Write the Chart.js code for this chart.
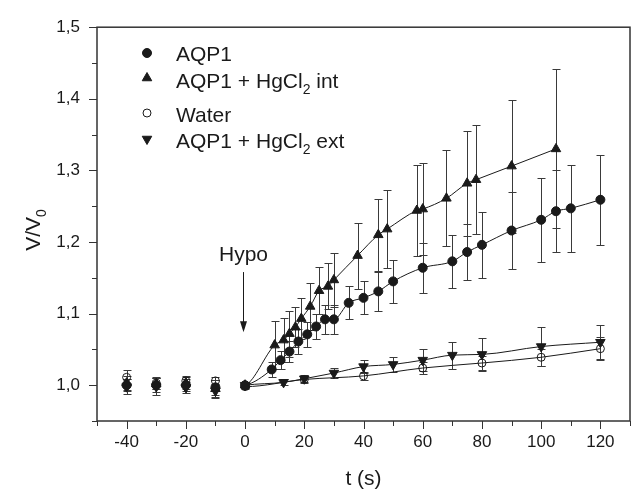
<!DOCTYPE html>
<html>
<head>
<meta charset="utf-8">
<script src="https://cdn.jsdelivr.net/npm/chart.js@4.4.0/dist/chart.umd.min.js"></script>
<style>
  html, body { margin: 0; padding: 0; background: #fff; }
  #chart { display: block; }
</style>
</head>
<body>
<canvas id="chart" width="641" height="493"></canvas>
<script>
// AQP1 (filled circles)
const tAqp1 = [-40, -30, -20, -10, 0, 9, 12, 15, 18, 21, 24, 27, 30, 35, 40, 45, 50, 60, 70, 75, 80, 90, 100, 105, 110, 120];
const vAqp1 = [1.000, 1.000, 1.000, 0.997, 1.000, 1.022, 1.035, 1.047, 1.061, 1.071, 1.082, 1.092, 1.092, 1.115, 1.122, 1.131, 1.145, 1.164, 1.173, 1.186, 1.196, 1.216, 1.231, 1.243, 1.247, 1.259];
const eAqp1 = [0.008, 0.010, 0.008, 0.010, 0.003, 0.010, 0.013, 0.015, 0.017, 0.017, 0.017, 0.020, 0.020, 0.023, 0.023, 0.027, 0.030, 0.035, 0.037, 0.039, 0.046, 0.054, 0.059, 0.057, 0.061, 0.063];

// AQP1 + HgCl2 int (triangles)
const tInt = [-40, -30, -20, -10, 0, 10, 13, 15, 17, 19, 22, 25, 28, 30, 38, 45, 48, 58, 60, 68, 75, 78, 90, 105];
const vInt = [1.003, 1.002, 1.003, 0.995, 1.000, 1.056, 1.063, 1.072, 1.081, 1.093, 1.110, 1.132, 1.138, 1.147, 1.181, 1.210, 1.218, 1.244, 1.246, 1.261, 1.282, 1.287, 1.306, 1.330];
const eInt = [0.010, 0.008, 0.008, 0.012, 0.004, 0.033, 0.031, 0.032, 0.028, 0.029, 0.033, 0.033, 0.032, 0.038, 0.046, 0.050, 0.055, 0.063, 0.064, 0.067, 0.073, 0.076, 0.093, 0.111];

// Water (open circles)
const tWater = [-40, -30, -20, -10, 0, 20, 40, 60, 80, 100, 120];
const vWater = [1.011, 1.003, 1.006, 1.006, 0.998, 1.008, 1.013, 1.024, 1.031, 1.039, 1.051];
const eWater = [0.010, 0.008, 0.007, 0.006, 0.003, 0.005, 0.006, 0.008, 0.010, 0.012, 0.016];

// AQP1 + HgCl2 ext (down triangles)
const tExt = [-40, -30, -20, -10, 0, 13, 20, 30, 40, 50, 60, 70, 80, 100, 120];
const vExt = [0.998, 0.998, 0.997, 0.992, 1.000, 1.004, 1.009, 1.017, 1.026, 1.029, 1.035, 1.042, 1.043, 1.054, 1.060];
const eExt = [0.010, 0.012, 0.008, 0.010, 0.004, 0.004, 0.005, 0.007, 0.009, 0.010, 0.015, 0.019, 0.023, 0.027, 0.024];

const FONT = '"Liberation Sans", Arial, sans-serif';
const INK = '#1a1a1a';
const AXIS = '#333';

const series = [
    {label: 'AQP1', t: tAqp1, v: vAqp1, e: eAqp1, style: 'circle', fill: INK, r: 4.5, rot: 0},
    {label: 'AQP1 + HgCl_2 int', t: tInt, v: vInt, e: eInt, style: 'triangle', fill: INK, r: 5.5, rot: 0},
    {label: 'Water', t: tWater, v: vWater, e: eWater, style: 'circle', fill: 'rgba(0,0,0,0)', r: 4, rot: 0},
    {label: 'AQP1 + HgCl_2 ext', t: tExt, v: vExt, e: eExt, style: 'triangle', fill: INK, r: 5.5, rot: 180},
];

function points(ts, vs) {
    return ts.map((t, i) => ({x: t, y: vs[i]}));
}

// text with "_x" single-character subscripts
function drawRich(ctx, text, x, baseline, size) {
    const parts = text.split(/_(.)/);
    let cx = x;
    parts.forEach((p, i) => {
        const sub = i % 2 === 1;
        ctx.font = (sub ? Math.round(size * 0.65) : size) + 'px ' + FONT;
        ctx.fillText(p, cx, baseline + (sub ? size * 0.3 : 0));
        cx += ctx.measureText(p).width;
    });
    return cx - x;
}

function richWidth(ctx, text, size) {
    const parts = text.split(/_(.)/);
    let w = 0;
    parts.forEach((p, i) => {
        ctx.font = (i % 2 ? Math.round(size * 0.65) : size) + 'px ' + FONT;
        w += ctx.measureText(p).width;
    });
    return w;
}

const framePlugin = {
    id: 'frame',
    beforeDatasetsDraw(chart) {
        const {ctx, scales: {x, y}} = chart;
        ctx.save();
        ctx.strokeStyle = '#3a3a3a';
        ctx.lineWidth = 1;
        chart.data.datasets.forEach(ds => {
            ds.data.forEach((p, i) => {
                const e = ds.errors[i];
                const px = Math.round(x.getPixelForValue(p.x)) + 0.5;
                const y1 = Math.round(y.getPixelForValue(p.y + e)) + 0.5;
                const y2 = Math.round(y.getPixelForValue(p.y - e)) + 0.5;
                ctx.beginPath();
                ctx.moveTo(px, y1); ctx.lineTo(px, y2);
                ctx.moveTo(px - 4, y1); ctx.lineTo(px + 4, y1);
                ctx.moveTo(px - 4, y2); ctx.lineTo(px + 4, y2);
                ctx.stroke();
            });
        });
        ctx.restore();
    },
    afterDraw(chart) {
        const {ctx, chartArea: a, scales: {x, y}} = chart;
        ctx.save();

        // box
        ctx.strokeStyle = AXIS;
        ctx.lineWidth = 1.5;
        ctx.strokeRect(a.left, a.top, a.right - a.left, a.bottom - a.top);

        // outward ticks, long on labelled ones
        ctx.lineWidth = 1;
        ctx.beginPath();
        x.ticks.forEach(t => {
            const px = Math.round(x.getPixelForValue(t.value)) + 0.5;
            ctx.moveTo(px, a.bottom);
            ctx.lineTo(px, a.bottom + (t.label ? 8 : 5));
        });
        y.ticks.forEach(t => {
            const py = Math.round(y.getPixelForValue(t.value)) + 0.5;
            ctx.moveTo(a.left, py);
            ctx.lineTo(a.left - (t.label ? 8 : 5), py);
        });
        ctx.stroke();

        // y title with subscript
        ctx.fillStyle = INK;
        ctx.textBaseline = 'alphabetic';
        ctx.save();
        ctx.translate(40, 230);
        ctx.rotate(-Math.PI / 2);
        const w = richWidth(ctx, 'V/V_0', 21);
        drawRich(ctx, 'V/V_0', -w / 2, 0, 21);
        ctx.restore();

        // Hypo arrow
        const ax = Math.round(x.getPixelForValue(-0.7)) + 0.5;
        const yTop = y.getPixelForValue(1.158);
        const yTip = y.getPixelForValue(1.074);
        ctx.strokeStyle = INK;
        ctx.beginPath();
        ctx.moveTo(ax, yTop);
        ctx.lineTo(ax, yTip - 8);
        ctx.stroke();
        ctx.beginPath();
        ctx.moveTo(ax - 3.5, yTip - 11);
        ctx.lineTo(ax + 3.5, yTip - 11);
        ctx.lineTo(ax, yTip);
        ctx.closePath();
        ctx.fill();
        ctx.font = '21px ' + FONT;
        ctx.textAlign = 'center';
        ctx.fillText('Hypo', ax, y.getPixelForValue(1.173));
        ctx.textAlign = 'left';

        // legend
        const markY = [53, 78, 113, 139];
        const textY = [61, 88, 122, 148];
        series.forEach((s, i) => {
            ctx.fillStyle = s.fill;
            ctx.strokeStyle = INK;
            ctx.lineWidth = 1;
            Chart.helpers.drawPoint(ctx, {pointStyle: s.style, radius: s.r, rotation: s.rot, borderWidth: 1}, 147, markY[i]);
            ctx.fillStyle = INK;
            drawRich(ctx, s.label, 176, textY[i], 21);
        });
        ctx.restore();
    }
};

new Chart(document.getElementById('chart'), {
    type: 'line',
    data: {
        datasets: series.map(s => ({
            label: s.label,
            data: points(s.t, s.v),
            errors: s.e,
            borderColor: INK,
            borderWidth: 1,
            cubicInterpolationMode: 'monotone',
            pointStyle: s.style,
            pointRadius: s.r,
            pointRotation: s.rot,
            pointBackgroundColor: s.fill,
            pointBorderColor: INK,
            pointBorderWidth: 1,
            // no line through the pre-stimulus points
            segment: {
                borderColor: c => c.p0.parsed.x < 0 ? 'rgba(0,0,0,0)' : INK,
            },
        })),
    },
    options: {
        responsive: false,
        animation: false,
        events: [],
        layout: {
            padding: {top: 20, right: 1, left: 0, bottom: 0},
        },
        plugins: {
            legend: {display: false},
            tooltip: {enabled: false},
        },
        scales: {
            x: {
                type: 'linear',
                min: -50,
                max: 130,
                afterFit: s => { s.height = 72; },
                grid: {display: false, drawTicks: false},
                border: {display: false},
                ticks: {
                    stepSize: 10,
                    autoSkip: false,
                    maxRotation: 0,
                    padding: 11,
                    color: INK,
                    font: {family: FONT, size: 17},
                    callback: v => (v % 20 === 0 && v > -50) ? String(v) : '',
                },
                title: {
                    display: true,
                    text: 't (s)',
                    color: INK,
                    font: {family: FONT, size: 21},
                    padding: {top: 0, bottom: 1},
                },
            },
            y: {
                min: 0.95,
                max: 1.5,
                afterFit: s => { s.width = 97; },
                grid: {display: false, drawTicks: false},
                border: {display: false},
                ticks: {
                    stepSize: 0.05,
                    autoSkip: false,
                    padding: 17,
                    color: INK,
                    font: {family: FONT, size: 17},
                    callback: v => {
                        const h = Math.round(v * 100);
                        return h % 10 === 0 ? (h / 100).toFixed(1).replace('.', ',') : '';
                    },
                },
            },
        },
    },
    plugins: [framePlugin],
});
</script>
</body>
</html>
